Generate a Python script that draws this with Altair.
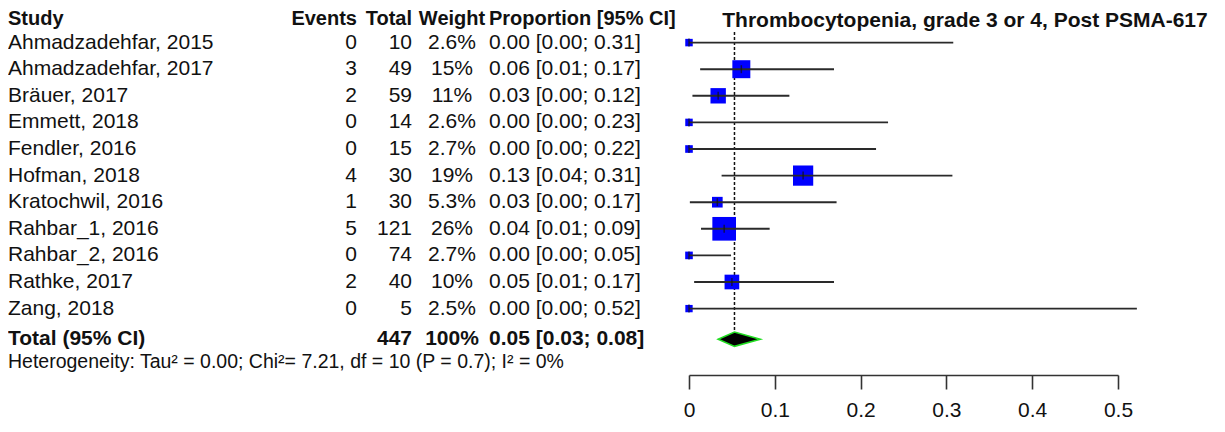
import altair as alt
import pandas as pd

# ---- data ----
studies = ["Ahmadzadehfar, 2015", "Ahmadzadehfar, 2017", "Bräuer, 2017", "Emmett, 2018",
           "Fendler, 2016", "Hofman, 2018", "Kratochwil, 2016", "Rahbar_1, 2016",
           "Rahbar_2, 2016", "Rathke, 2017", "Zang, 2018"]
events = [0, 3, 2, 0, 0, 4, 1, 5, 0, 2, 0]
totals = [10, 49, 59, 14, 15, 30, 30, 121, 74, 40, 5]
weights = [2.6, 15, 11, 2.6, 2.7, 19, 5.3, 26, 2.7, 10, 2.5]
est = [0.0, 0.061, 0.034, 0.0, 0.0, 0.133, 0.033, 0.041, 0.0, 0.05, 0.0]
lower = [0.0, 0.013, 0.004, 0.0, 0.0, 0.038, 0.001, 0.014, 0.0, 0.006, 0.0]
upper = [0.308, 0.169, 0.117, 0.232, 0.218, 0.307, 0.172, 0.094, 0.049, 0.169, 0.522]

pooled_est, pooled_lo, pooled_hi = 0.053, 0.034, 0.083
total_n = 447
total_weight = "100%"

headers = ["Study", "Events", "Total", "Weight", "Proportion [95% CI]"]
plot_title = "Thrombocytopenia, grade 3 or 4, Post PSMA-617"
total_label = "Total (95% CI)"
het_text = "Heterogeneity: Tau² = 0.00; Chi²= 7.21, df = 10 (P = 0.7); I² = 0%"
tick_values = [0, 0.1, 0.2, 0.3, 0.4, 0.5]

# ---- tables ----
rows = list(range(1, len(studies) + 1))
df = pd.DataFrame(dict(study=studies, events=[str(e) for e in events],
                       total=[str(t) for t in totals], weight=weights,
                       est=est, lower=lower, upper=upper, row=rows))
df["wlab"] = [f"{w:g}%" for w in weights]
df["plab"] = [f"{e:.2f} [{l:.2f}; {u:.2f}]" for e, l, u in zip(est, lower, upper)]

HEADER_ROW = 0.12
TITLE_ROW = 0.17
TOTAL_ROW = 12.15
HET_ROW = 13.0
tot = pd.DataFrame(dict(row=[TOTAL_ROW], study=[total_label], total=[str(total_n)],
                        wlab=[total_weight],
                        plab=[f"{pooled_est:.2f} [{pooled_lo:.2f}; {pooled_hi:.2f}]"],
                        est=[pooled_est], top=[0.6]))
hdr = pd.DataFrame(dict(row=[HEADER_ROW], study=[headers[0]], events=[headers[1]],
                        total=[headers[2]], wlab=[headers[3]], plab=[headers[4]]))
ttl = pd.DataFrame(dict(row=[TITLE_ROW], title=[plot_title]))
het = pd.DataFrame(dict(row=[HET_ROW], text=[het_text]))
dia = pd.DataFrame(dict(x=[pooled_lo, pooled_est, pooled_hi],
                        y=[TOTAL_ROW, TOTAL_ROW - 0.27, TOTAL_ROW],
                        y2=[TOTAL_ROW, TOTAL_ROW + 0.27, TOTAL_ROW]))

FONT = "Liberation Sans"
FS = 21
TXT = "#111111"
H = 418          # whole drawing height (autosize none)
AXIS_Y = 367     # where the x axis line sits inside the drawing

YS = alt.Scale(domain=[0, 13.5], range=[8, 8 + 26.6 * 13.5])
XS = alt.Scale(domain=[0, 0.5], range=[681, 1110])


def Y(field="row"):
    return alt.Y(f"{field}:Q", scale=YS, axis=None)


def col(data, field, xpx, align, bold=False, size=FS):
    return alt.Chart(data).mark_text(
        align=align, baseline="middle", font=FONT, fontSize=size,
        fontWeight="bold" if bold else "normal", color=TXT
    ).encode(x=alt.value(xpx), y=Y(), text=f"{field}:N")


cols = [("study", 0, "left"), ("events", 349, "right"), ("total", 404, "right"),
        ("wlab", 444, "center"), ("plab", 481, "left")]

layers = []
for f, xp, al in cols:
    layers.append(col(hdr, f, xp, al, bold=True, size=20))
    layers.append(col(df, f, xp, al))
for f, xp, al in [("study", 0, "left"), ("total", 404, "right"),
                  ("wlab", 444, "center"), ("plab", 481, "left")]:
    layers.append(col(tot, f, xp, al, bold=True))
layers.append(col(ttl, "title", 957, "center", bold=True, size=21))
layers.append(col(het, "text", 0, "left", size=19.5))

axis = alt.Axis(values=tick_values, title=None, grid=False, offset=AXIS_Y - H,
                labelExpr="datum.value == 0 ? '0' : format(datum.value, '.1f')",
                domainColor="#333333", domainWidth=1.6, tickColor="#333333",
                tickWidth=1.6, tickSize=14, labelFontSize=21, labelFont=FONT,
                labelColor=TXT, labelPadding=10, labelFlush=False)

dashed = alt.Chart(tot).mark_rule(color="#111111", strokeWidth=1.5, strokeDash=[3, 2]).encode(
    x=alt.X("est:Q", scale=XS, axis=axis), y=Y("top"), y2="row:Q")

squares = alt.Chart(df).mark_square(filled=True, color="#0000ff", opacity=1).encode(
    x=alt.X("est:Q", scale=XS), y=Y(),
    size=alt.Size("weight:Q", scale=alt.Scale(type="linear", domain=[0, 26], range=[0, 560]),
                  legend=None))

ci = alt.Chart(df).mark_rule(color="#2a2a2a", strokeWidth=1.9).encode(
    x=alt.X("lower:Q", scale=XS), x2="upper:Q", y=Y())

ticks = alt.Chart(df).mark_tick(orient="vertical", size=8, thickness=1.5, color="#111111").encode(
    x=alt.X("est:Q", scale=XS), y=Y())

diamond = alt.Chart(dia).mark_area(orient="vertical", color="#000000", fill="#000000",
                                   stroke="#22dd22", strokeWidth=1.6, opacity=1).encode(
    x=alt.X("x:Q", scale=XS), y=Y("y"), y2="y2:Q")

chart = alt.layer(dashed, squares, ci, ticks, diamond, *layers).properties(
    width=1209, height=H, padding=0, autosize=alt.AutoSizeParams(type="none")
).configure_view(stroke=None)

chart.save("out.html", embed_options={"renderer": "svg", "actions": False})
